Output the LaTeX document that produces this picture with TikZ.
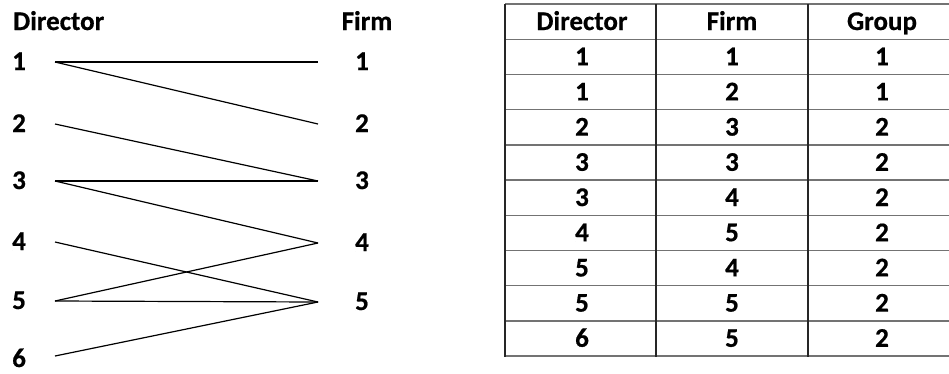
\documentclass[tikz,border=0pt]{standalone}
\usepackage{fontspec}
\setmainfont{Carlito}[BoldFeatures={FakeBold=0.6}]
\begin{document}
\begin{tikzpicture}[x=1pt,y=-1pt,
  lbl/.style={font=\fontsize{27}{27}\selectfont\bfseries, inner sep=0pt, anchor=base},
  edge/.style={line width=1.2pt, black},
  hline/.style={line width=1.4pt, black!55},
  vline/.style={line width=1.4pt, black!85}]
\useasboundingbox (0,0) rectangle (949,373);
% left labels
\node[lbl, anchor=base west] (dh) at (13,30) {Director};
\node[lbl] (fh) at (367,30) {Firm};
\foreach \i/\y in {1/62,2/124,3/181,4/242,5/301,6/359}{
  \node[lbl, anchor=base west] (d\i) at (12,\y+8) {\i};
  \coordinate (dp\i) at (55,\y);
}
\foreach \i/\y in {1/62,2/124,3/181,4/243,5/302}{
  \node[lbl] (f\i) at (362,\y+8) {\i};
  \coordinate (fp\i) at (318,\y);
}
\coordinate (dp6) at (55,356);
\draw[edge] (dp1) -- (fp1);
\draw[edge] (dp1) -- (fp2);
\draw[edge] (dp2) -- (fp3);
\draw[edge] (dp3) -- (fp3);
\draw[edge] (dp3) -- (fp4);
\draw[edge] (dp4) -- (fp5);
\draw[edge] (dp5) -- (fp4);
\draw[edge] (dp5) -- (fp5);
\draw[edge] (dp6) -- (fp5);
% table
\begin{scope}
\clip (0,0) rectangle (949,373);
\foreach \k in {0,...,10}{
  \draw[hline] (505,{4+35.2*\k}) -- (960,{4+35.2*\k});
}
\draw[vline] (505,4) -- (505,357);
\draw[vline] (656,4) -- (656,357);
\draw[vline] (808,4) -- (808,357);
\end{scope}
\node[lbl] (th1) at (582,30) {Director};
\node[lbl] (th2) at (732,30) {Firm};
\node[lbl] (th3) at (882,30) {Group};
\foreach \r/\a/\b/\c in {1/1/1/1,2/1/2/1,3/2/3/2,4/3/3/2,5/3/4/2,6/4/5/2,7/5/4/2,8/5/5/2,9/6/5/2}{
  \node[lbl] (ta\r) at (582,{4+35.2*\r+26}) {\a};
  \node[lbl] (tb\r) at (732,{4+35.2*\r+26}) {\b};
  \node[lbl] (tc\r) at (882,{4+35.2*\r+26}) {\c};
}
\end{tikzpicture}
\end{document}
